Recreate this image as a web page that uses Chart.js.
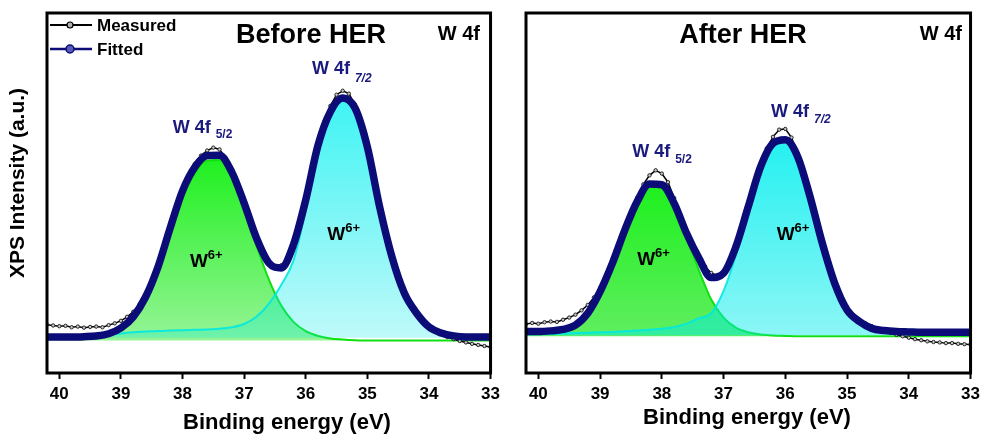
<!DOCTYPE html>
<html>
<head>
<meta charset="utf-8">
<script src="https://cdn.jsdelivr.net/npm/chart.js@4.4.1/dist/chart.umd.min.js"></script>
<style>
  html, body { margin: 0; padding: 0; background: #fff; }
  #wrap { position: relative; width: 985px; height: 436px; }
  .panel { position: absolute; top: 0; height: 436px; }
  #before { left: 0; width: 505px; }
  #after { left: 505px; width: 480px; }
</style>
</head>
<body>
<div id="wrap">
  <div class="panel" id="before"><canvas id="beforeChart"></canvas></div>
  <div class="panel" id="after"><canvas id="afterChart"></canvas></div>
</div>
<script>
// binding energy grids (eV)
const energyFit = [40.2, 40.0, 39.8, 39.6, 39.4, 39.2, 39.0, 38.8, 38.6, 38.4, 38.2, 38.0, 37.8, 37.6, 37.4, 37.2, 37.0, 36.8, 36.6, 36.4, 36.2, 36.0, 35.8, 35.6, 35.4, 35.2, 35.0, 34.8, 34.6, 34.4, 34.2, 34.0, 33.8, 33.6, 33.4, 33.2, 33.0];
const energyMeasured = [40.2, 40.1, 40.0, 39.9, 39.8, 39.7, 39.6, 39.5, 39.4, 39.3, 39.2, 39.1, 39.0, 38.9, 38.8, 38.7, 38.6, 38.5, 38.4, 38.3, 38.2, 38.1, 38.0, 37.9, 37.8, 37.7, 37.6, 37.5, 37.4, 37.3, 37.2, 37.1, 37.0, 36.9, 36.8, 36.7, 36.6, 36.5, 36.4, 36.3, 36.2, 36.1, 36.0, 35.9, 35.8, 35.7, 35.6, 35.5, 35.4, 35.3, 35.2, 35.1, 35.0, 34.9, 34.8, 34.7, 34.6, 34.5, 34.4, 34.3, 34.2, 34.1, 34.0, 33.9, 33.8, 33.7, 33.6, 33.5, 33.4, 33.3, 33.2, 33.1, 33.0];
const xTicks = [40, 39, 38, 37, 36, 35, 34, 33];

// Before HER
const beforeMeasured = [13.4, 13.2, 13.0, 13.1, 12.7, 12.9, 12.6, 12.8, 12.9, 12.7, 13.3, 13.8, 14.5, 15.6, 17.0, 19.0, 21.8, 25.4, 29.9, 35.2, 40.8, 46.3, 51.2, 55.0, 58.1, 60.4, 61.8, 62.6, 62.1, 59.8, 56.4, 52.0, 47.3, 42.4, 37.7, 33.6, 30.9, 29.6, 29.9, 31.9, 36.0, 41.6, 48.6, 56.2, 63.6, 69.8, 74.2, 77.3, 78.4, 77.6, 74.6, 69.6, 63.0, 55.0, 46.6, 38.8, 32.2, 26.6, 22.3, 19.0, 16.6, 14.6, 13.1, 11.8, 10.8, 10.0, 9.4, 8.9, 8.5, 8.1, 7.8, 7.5, 7.2];
const beforeFitted = [10.0, 10.0, 10.0, 10.1, 10.3, 10.9, 12.5, 15.6, 21.1, 29.4, 40.3, 50.6, 57.2, 60.4, 60.5, 55.8, 47.2, 37.5, 30.6, 29.2, 35.6, 48.1, 63.3, 72.6, 76.4, 73.6, 62.8, 46.1, 32.2, 22.2, 16.6, 12.8, 11.1, 10.3, 10.0, 10.0, 10.0];
const beforeW52 = [9.8, 9.8, 9.8, 9.9, 10.0, 10.5, 12.0, 14.9, 20.2, 28.2, 38.8, 48.8, 55.6, 59.0, 59.2, 54.6, 45.8, 35.4, 26.0, 18.8, 14.2, 11.6, 10.3, 9.6, 9.3, 9.1, 9.0, 9.0, 9.0, 9.0, 9.0, 9.0, 9.0, 9.0, 9.0, 9.0, 9.0];
const beforeW72 = [10.0, 10.1, 10.2, 10.3, 10.5, 10.7, 11.0, 11.3, 11.5, 11.7, 11.8, 11.9, 12.0, 12.1, 12.3, 12.7, 13.6, 15.6, 19.2, 24.4, 31.2, 45.2, 62.0, 72.0, 76.2, 73.5, 62.7, 46.0, 32.1, 22.1, 16.5, 12.7, 11.0, 10.2, 10.0, 9.9, 9.9];

// After HER
const afterMeasured = [13.6, 13.9, 13.7, 14.1, 14.3, 14.2, 14.8, 15.4, 16.2, 17.4, 18.9, 21.0, 23.6, 26.9, 30.9, 35.4, 40.1, 44.6, 48.7, 52.4, 54.9, 56.3, 55.4, 53.0, 48.6, 43.6, 39.0, 35.0, 32.0, 29.6, 27.8, 27.0, 27.9, 30.6, 35.2, 40.6, 46.6, 52.6, 58.0, 62.4, 65.6, 67.6, 67.8, 65.4, 61.0, 55.6, 49.4, 42.8, 36.4, 30.6, 25.6, 21.4, 18.2, 16.2, 14.8, 13.8, 13.0, 12.4, 11.9, 11.2, 10.6, 10.2, 9.8, 9.4, 9.1, 8.8, 8.6, 8.5, 8.3, 8.3, 8.1, 8.0, 7.9];
const afterFitted = [11.5, 11.5, 11.7, 12.1, 13.3, 16.6, 22.6, 30.5, 39.7, 47.6, 52.5, 52.3, 47.1, 38.8, 31.9, 26.5, 27.7, 35.1, 46.2, 57.3, 63.8, 64.8, 60.1, 49.0, 36.0, 24.9, 17.5, 14.3, 12.4, 11.8, 11.5, 11.4, 11.3, 11.3, 11.3, 11.3, 11.3];
const afterW52 = [10.8, 10.8, 11.0, 11.4, 12.6, 15.9, 21.9, 29.8, 39.0, 46.9, 51.8, 51.6, 46.4, 37.6, 28.6, 20.4, 15.4, 12.6, 11.3, 10.7, 10.4, 10.3, 10.2, 10.2, 10.2, 10.2, 10.2, 10.2, 10.2, 10.2, 10.2, 10.2, 10.2, 10.2, 10.2, 10.2, 10.2];
const afterW72 = [10.7, 10.8, 10.9, 11.0, 11.1, 11.2, 11.3, 11.4, 11.6, 11.8, 12.0, 12.3, 12.8, 13.7, 15.2, 16.6, 22.8, 32.8, 45.4, 56.9, 63.6, 64.6, 60.0, 48.9, 35.9, 24.8, 17.4, 14.2, 12.3, 11.6, 11.3, 11.1, 11.0, 10.9, 10.9, 10.9, 10.9];

const FONT = '"Liberation Sans", Arial, Helvetica, sans-serif';
const NAVY = "#0c0c78";
Chart.defaults.font.family = FONT;
Chart.defaults.color = "#000";

function pts(xs, ys) {
	return xs.map((x, i) => ({ x: x, y: ys[i] }));
}

// vertical gradient between two y values
function vGrad(topVal, baseVal, c1, c2) {
	return function (context) {
		const chart = context.chart;
		const y = chart.scales.y;
		if (!chart.chartArea || !y) return c2;
		const g = chart.ctx.createLinearGradient(0, y.getPixelForValue(topVal), 0, y.getPixelForValue(baseVal));
		g.addColorStop(0, c1);
		g.addColorStop(1, c2);
		return g;
	};
}

function textPlugin(t) {
	return {
		id: "panelText",
		afterDraw(chart) {
			const { ctx, chartArea: a, scales } = chart;
			const sx = scales.x, sy = scales.y;
			ctx.save();

			// frame
			ctx.lineWidth = 3;
			ctx.strokeStyle = "#000";
			ctx.strokeRect(a.left, a.top, a.right - a.left, a.bottom - a.top);

			ctx.fillStyle = "#000";
			ctx.textBaseline = "alphabetic";
			ctx.textAlign = "center";
			ctx.font = "bold 27px " + FONT;
			ctx.fillText(t.title, t.titleX, 43);

			ctx.textAlign = "right";
			ctx.font = "bold 20px " + FONT;
			ctx.fillText("W 4f", t.coreX, 40);

			ctx.textAlign = "center";
			ctx.font = "bold 22px " + FONT;
			ctx.fillText("Binding energy (eV)", t.xTitleX, t.xTitleY);

			if (t.yTitle) {
				ctx.save();
				ctx.translate(18, 183);
				ctx.rotate(-Math.PI / 2);
				ctx.font = "bold 21px " + FONT;
				ctx.textBaseline = "middle";
				ctx.fillText("XPS Intensity (a.u.)", 0, 0);
				ctx.restore();
			}

			// peak labels
			ctx.textAlign = "left";
			t.peaks.forEach((p) => {
				const px = sx.getPixelForValue(p.x);
				const py = sy.getPixelForValue(p.y);
				ctx.fillStyle = "#1a1a7e";
				ctx.font = "bold 18px " + FONT;
				ctx.fillText("W 4f", px, py);
				const w = ctx.measureText("W 4f").width;
				ctx.font = (p.italic ? "italic " : "") + "bold 12px " + FONT;
				ctx.fillText(p.sub, px + w + 5, py + p.subDy);
			});

			// W6+ labels
			t.states.forEach((s) => {
				const px = sx.getPixelForValue(s.x);
				const py = sy.getPixelForValue(s.y);
				ctx.fillStyle = "#000";
				ctx.font = "bold 19px " + FONT;
				ctx.fillText("W", px, py);
				const w = ctx.measureText("W").width;
				ctx.font = "bold 13px " + FONT;
				ctx.fillText("6+", px + w, py - 8);
			});

			// legend
			if (t.legend) {
				ctx.lineWidth = 2;
				ctx.strokeStyle = "#000";
				ctx.beginPath();
				ctx.moveTo(50, 25);
				ctx.lineTo(92, 25);
				ctx.stroke();
				ctx.beginPath();
				ctx.arc(70, 25, 3, 0, Math.PI * 2);
				ctx.fillStyle = "#b0b0b0";
				ctx.fill();
				ctx.lineWidth = 1.2;
				ctx.stroke();

				ctx.lineWidth = 2.5;
				ctx.strokeStyle = NAVY;
				ctx.beginPath();
				ctx.moveTo(50, 49);
				ctx.lineTo(92, 49);
				ctx.stroke();
				ctx.beginPath();
				ctx.arc(70, 49, 4, 0, Math.PI * 2);
				ctx.fillStyle = "#5a5ab4";
				ctx.fill();
				ctx.lineWidth = 1.5;
				ctx.stroke();

				ctx.fillStyle = "#000";
				ctx.font = "bold 17px " + FONT;
				ctx.fillText("Measured", 97, 31);
				ctx.fillText("Fitted", 97, 55);
			}
			ctx.restore();
		},
	};
}

function makePanel(canvasId, d) {
	return new Chart(document.getElementById(canvasId), {
		type: "line",
		data: {
			datasets: [
				{
					label: "Fitted",
					data: pts(energyFit, d.fitted),
					borderColor: NAVY,
					borderWidth: 7.5,
					pointRadius: 0,
					cubicInterpolationMode: "monotone",
					order: 0,
				},
				{
					label: "Measured",
					data: pts(energyMeasured, d.measured),
					borderColor: "#000",
					borderWidth: 1.5,
					pointRadius: 1.7,
					pointBackgroundColor: "#c8c8c8",
					pointBorderColor: "#222",
					pointBorderWidth: 1,
					order: 1,
				},
				{
					label: "W 4f7/2",
					data: pts(energyFit, d.w72),
					borderColor: "rgba(0,232,225,0.9)",
					borderWidth: 2,
					pointRadius: 0,
					cubicInterpolationMode: "monotone",
					fill: { value: d.cyanBase },
					backgroundColor: vGrad(d.cyanTop, d.cyanBase, d.cyanC1, d.cyanC2),
					order: 2,
				},
				{
					label: "W 4f5/2",
					data: pts(energyFit, d.w52),
					borderColor: "#10e010",
					borderWidth: 2,
					pointRadius: 0,
					cubicInterpolationMode: "monotone",
					fill: { value: d.greenBase },
					backgroundColor: vGrad(d.greenTop, d.greenBase, d.greenC1, d.greenC2),
					order: 3,
				},
			],
		},
		options: {
			responsive: true,
			maintainAspectRatio: false,
			animation: false,
			layout: { padding: d.padding },
			plugins: {
				legend: { display: false },
				tooltip: { enabled: false },
			},
			scales: {
				x: {
					type: "linear",
					reverse: true,
					min: 33,
					max: 40.2,
					afterBuildTicks: (s) => {
						s.ticks = xTicks.map((v) => ({ value: v }));
					},
					afterFit: (s) => {
						s.height = 63;
					},
					grid: {
						drawOnChartArea: false,
						drawTicks: true,
						tickLength: 6,
						tickWidth: 2,
						color: "#000",
					},
					border: { display: false },
					ticks: {
						font: { size: 17, weight: "bold" },
						color: "#000",
						padding: 5,
						maxRotation: 0,
						autoSkip: false,
					},
				},
				y: { display: false, min: 0, max: 100 },
			},
		},
		plugins: [textPlugin(d.text)],
	});
}

makePanel("beforeChart", {
	measured: beforeMeasured,
	fitted: beforeFitted,
	w52: beforeW52,
	w72: beforeW72,
	greenBase: 9.0,
	greenTop: 60,
	greenC1: "rgba(30,240,30,1)",
	greenC2: "rgba(150,244,150,1)",
	cyanBase: 9.8,
	cyanTop: 76,
	cyanC1: "rgba(0,240,240,0.75)",
	cyanC2: "rgba(0,235,235,0.25)",
	padding: { left: 47, top: 13, right: 14, bottom: 0 },
	text: {
		title: "Before HER",
		titleX: 311,
		coreX: 480,
		xTitleX: 287,
		xTitleY: 429,
		yTitle: true,
		legend: true,
		peaks: [
			{ x: 38.16, y: 66.7, sub: "5/2", subDy: 5, italic: false },
			{ x: 35.9, y: 83.1, sub: "7/2", subDy: 8, italic: true },
		],
		states: [
			{ x: 37.88, y: 29.4 },
			{ x: 35.65, y: 36.9 },
		],
	},
});

makePanel("afterChart", {
	measured: afterMeasured,
	fitted: afterFitted,
	w52: afterW52,
	w72: afterW72,
	greenBase: 10.2,
	greenTop: 52,
	greenC1: "rgba(30,240,30,1)",
	greenC2: "rgba(96,238,96,1)",
	cyanBase: 10.5,
	cyanTop: 64,
	cyanC1: "rgba(0,238,238,0.85)",
	cyanC2: "rgba(0,235,235,0.45)",
	padding: { left: 21, top: 13, right: 12, bottom: 0 },
	text: {
		title: "After HER",
		titleX: 238,
		coreX: 457,
		xTitleX: 242,
		xTitleY: 424,
		yTitle: false,
		legend: false,
		peaks: [
			{ x: 38.48, y: 60, sub: "5/2", subDy: 6, italic: false },
			{ x: 36.23, y: 71.1, sub: "7/2", subDy: 6, italic: true },
		],
		states: [
			{ x: 38.4, y: 30 },
			{ x: 36.14, y: 36.9 },
		],
	},
});
</script>
</body>
</html>
